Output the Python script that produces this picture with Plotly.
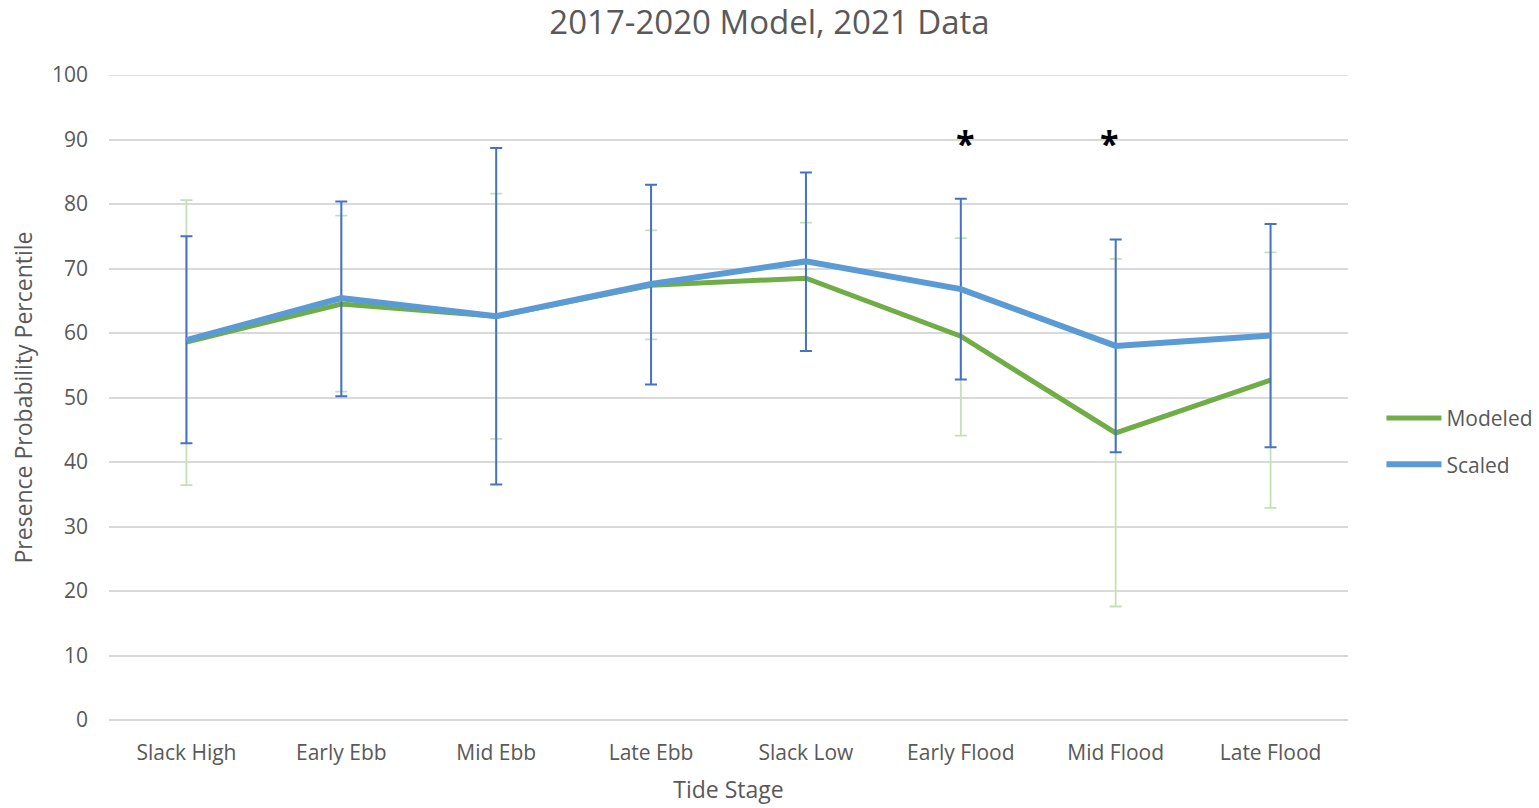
import plotly.graph_objects as go

# Tide stages along the x axis
stages = ["Slack High", "Early Ebb", "Mid Ebb", "Late Ebb",
          "Slack Low", "Early Flood", "Mid Flood", "Late Flood"]

# Modeled presence probability percentile with interval bounds
modeled = [58.6, 64.5, 62.6, 67.4, 68.5, 59.5, 44.5, 52.7]
modeled_upper = [80.6, 78.2, 81.6, 75.9, 77.1, 74.7, 71.5, 72.5]
modeled_lower = [36.4, 50.9, 43.6, 59.0, 60.0, 44.1, 17.6, 32.9]

# Scaled presence probability percentile with interval bounds
scaled = [58.9, 65.4, 62.6, 67.6, 71.1, 66.8, 58.0, 59.6]
scaled_upper = [75.0, 80.4, 88.7, 83.0, 84.9, 80.8, 74.5, 76.9]
scaled_lower = [42.9, 50.2, 36.5, 52.0, 57.2, 52.8, 41.5, 42.3]

# Stages flagged as significantly different
flagged = ["Early Flood", "Mid Flood"]
flag_offsets = [0.03, -0.04]
flag_level = 89.5

FONT = "Open Sans"
GREY = "#595959"
GRID = "#D9D9D9"


def err(vals, up, lo, color, width, thick):
    return dict(
        type="data", symmetric=False,
        array=[u - v for u, v in zip(up, vals)],
        arrayminus=[v - l for v, l in zip(vals, lo)],
        color=color, thickness=thick, width=width,
    )


fig = go.Figure()
fig.add_trace(go.Scatter(
    x=stages, y=modeled, name="Modeled", mode="lines",
    line=dict(color="#70AD47", width=5),
    error_y=err(modeled, modeled_upper, modeled_lower, "#C5E0B4", 6, 1.8),
    legendgroup="m",
))
fig.add_trace(go.Scatter(
    x=stages, y=scaled, name="Scaled", mode="lines",
    line=dict(color="#5B9BD5", width=6),
    error_y=err(scaled, scaled_upper, scaled_lower, "#4472C4", 6, 2),
    legendgroup="s",
))

for name, off in zip(flagged, flag_offsets):
    idx = stages.index(name)
    fig.add_annotation(
        x=idx + off, y=flag_level, xref="x", yref="y", text="<b>*</b>",
        showarrow=False, font=dict(family=FONT, size=34, color="black"),
    )

# top gridline at the upper edge of the value axis
fig.add_shape(type="line", xref="paper", yref="y", x0=0, x1=1, y0=100, y1=100,
              line=dict(color=GRID, width=1.5), layer="below")

fig.update_layout(
    width=1539, height=808,
    margin=dict(l=109, r=191, t=75, b=88, autoexpand=False),
    paper_bgcolor="white", plot_bgcolor="white",
    font=dict(family=FONT, color=GREY),
    title=dict(text="2017-2020 Model, 2021 Data", x=0.5, xanchor="center",
               xref="container", yref="container", y=0.972, yanchor="middle",
               font=dict(family=FONT, size=33, color=GREY)),
    legend=dict(x=1.027, y=0.432, xanchor="left", yanchor="middle",
                font=dict(family=FONT, size=21, color=GREY),
                tracegroupgap=16, itemwidth=55, traceorder="grouped"),
    showlegend=True,
)
fig.update_xaxes(
    type="category", range=[-0.5, 7.5], showgrid=False, showline=False,
    ticks="", tickfont=dict(family=FONT, size=21, color=GREY), ticklabelstandoff=18,
    title=dict(text="Tide Stage", font=dict(family=FONT, size=23, color=GREY),
               standoff=16),
)
fig.update_yaxes(
    range=[0, 100], dtick=10, showgrid=True, gridcolor=GRID, gridwidth=1.5,
    zeroline=True, zerolinecolor=GRID, zerolinewidth=1.5, showline=False,
    ticks="", tickfont=dict(family=FONT, size=21, color=GREY), ticklabelstandoff=20,
    title=dict(text="Presence Probability Percentile",
               font=dict(family=FONT, size=23, color=GREY), standoff=12),
)

fig.write_html("out.html")
